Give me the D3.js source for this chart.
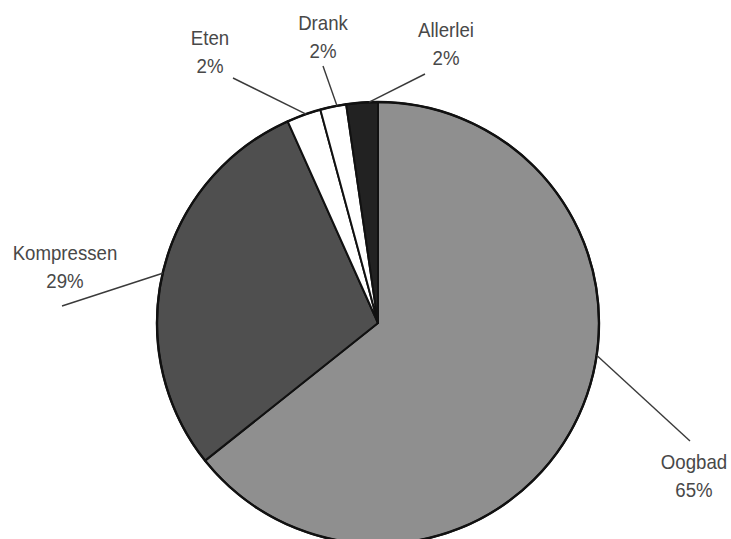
<!DOCTYPE html>
<html>
<head>
<meta charset="utf-8">
<script src="https://cdn.jsdelivr.net/npm/d3@7"></script>
<style>
  html, body { margin: 0; padding: 0; background: #fff; }
  svg { display: block; }
</style>
</head>
<body>
<svg id="chart" width="731" height="539"></svg>
<script>
// ---- data ----
const categories = ["Oogbad", "Kompressen", "Eten", "Drank", "Allerlei"];
const values = [64.3, 29.0, 2.5, 1.9, 2.3];
const percentLabels = ["65%", "29%", "2%", "2%", "2%"];

// ---- styles / layout ----
const colors = ["#8f8f8f", "#4f4f4f", "#ffffff", "#ffffff", "#222222"];
const cx = 378, cy = 323, radius = 221;
// label anchor (centre x, first baseline y) and leader line geometry
const labelLayout = [
  { x: 694, y: 469, leaderDeg: 98.4, endX: 690, endY: 441 },
  { x: 65,  y: 260, leaderDeg: 283,  endX: 62,  endY: 306 },
  { x: 210, y: 45,  leaderDeg: 341,  endX: 233, endY: 78 },
  { x: 323, y: 30,  leaderDeg: 349.3,endX: 323, endY: 66 },
  { x: 446, y: 37,  leaderDeg: 357.7,endX: 425, endY: 74 }
];

const svg = d3.select("#chart");
const g = svg.append("g").attr("transform", `translate(${cx},${cy})`);

const data = categories.map((c, i) => ({ name: c, value: values[i], label: percentLabels[i], i }));
const pie = d3.pie().sort(null).value(d => d.value).startAngle(0).endAngle(2 * Math.PI);
const arc = d3.arc().innerRadius(0).outerRadius(radius);

g.selectAll("path.slice")
  .data(pie(data))
  .join("path")
  .attr("class", "slice")
  .attr("d", arc)
  .attr("fill", d => colors[d.data.i])
  .attr("stroke", "#111")
  .attr("stroke-width", 2)
  .attr("stroke-linejoin", "round");

// outer rim
g.append("circle").attr("r", radius).attr("fill", "none").attr("stroke", "#111").attr("stroke-width", 2.4);

// leader lines
svg.append("g").selectAll("line")
  .data(data)
  .join("line")
  .attr("x1", d => cx + d3.pointRadial(labelLayout[d.i].leaderDeg * Math.PI / 180, radius)[0])
  .attr("y1", d => cy + d3.pointRadial(labelLayout[d.i].leaderDeg * Math.PI / 180, radius)[1])
  .attr("x2", d => labelLayout[d.i].endX)
  .attr("y2", d => labelLayout[d.i].endY)
  .attr("stroke", "#3a3a3a")
  .attr("stroke-width", 1.4);

// labels (slightly condensed, like the original typeface)
const lab = svg.append("g")
  .attr("font-family", "'Liberation Sans', Arial, Helvetica, sans-serif")
  .attr("font-size", 20.5)
  .attr("fill", "#484848")
  .attr("text-anchor", "middle");

const t = lab.selectAll("text")
  .data(data)
  .join("text")
  .attr("transform", d => `translate(${labelLayout[d.i].x},${labelLayout[d.i].y}) scale(0.91,1)`);
t.append("tspan").attr("x", 0).attr("y", 0).text(d => d.name);
t.append("tspan").attr("x", 0).attr("dy", 28.5).text(d => d.label);
</script>
</body>
</html>
